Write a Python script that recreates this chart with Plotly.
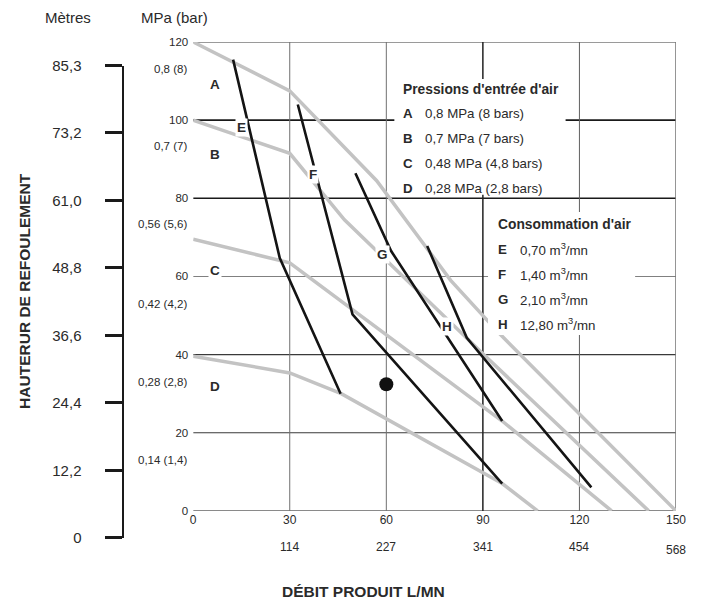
import plotly.graph_objects as go

# ---------------- data ----------------
# Pressure curves (gray): x = débit (0-150 scale), y = MPa*100 scale
A_x = [0, 30, 57, 80, 95, 150]
A_y = [120, 107.5, 84.5, 59, 45.5, 0]
B_x = [0, 30, 47, 90, 141.5]
B_y = [100, 91.5, 74.5, 40.2, 0]
C_x = [0, 30, 96, 130]
C_y = [69.5, 63.5, 23, 0]
D_x = [0, 30, 46, 96, 107]
D_y = [39.6, 35.3, 30, 7, 0]

# Air consumption curves (black)
E_x = [12.4, 26.9, 45.8]
E_y = [115.5, 64.7, 30]
F_x = [32.5, 49.5, 96]
F_y = [104, 50.3, 7]
G_x = [50.4, 61.5, 96]
G_y = [86.4, 66.5, 23]
H_x = [72.7, 85, 123.7]
H_y = [67.8, 44.3, 6]

# operating point
dot_x = [60]
dot_y = [32.4]

# axes ticks
x_ticks = [0, 30, 60, 90, 120, 150]
x_ticks_lmn = ["", "114", "227", "341", "454", "568"]
y_ticks = [0, 20, 40, 60, 80, 100, 120]
bar_label_vals = [113, 93.5, 73.5, 53, 33, 13]
bar_labels = ["0,8 (8)", "0,7 (7)", "0,56 (5,6)", "0,42 (4,2)", "0,28 (2,8)", "0,14 (1,4)"]
m_ticks = [0, 12.2, 24.4, 36.6, 48.8, 61.0, 73.2, 85.3]
m_labels = ["0", "12,2", "24,4", "36,6", "48,8", "61,0", "73,2", "85,3"]

curve_labels = ["A", "B", "C", "D"]
curve_label_y = [109.2, 91.3, 61.4, 31.8]
point_labels = ["E", "F", "G", "H"]
point_label_x = [14.9, 37.1, 58.8, 78.9]
point_label_y = [98, 86.2, 65.7, 47.3]

press_title = "Pressions d'entrée d'air"
press_letters = ["A", "B", "C", "D"]
press_texts = ["0,8 MPa (8 bars)", "0,7 MPa (7 bars)", "0,48 MPa (4,8 bars)", "0,28 MPa (2,8 bars)"]
cons_title = "Consommation d'air"
cons_letters = ["E", "F", "G", "H"]
cons_texts = ["0,70 m<sup>3</sup>/mn", "1,40 m<sup>3</sup>/mn", "2,10 m<sup>3</sup>/mn", "12,80 m<sup>3</sup>/mn"]

# ---------------- geometry helpers ----------------
# layout positions below are given in target-image pixels; K compensates the
# vertical squeeze observed when the page is photographed
W, H = 701, 612
K = 612 / 603
ML, MR, MT, MB = 10, 25, 41 * K, 10
PW = W - ML - MR
PH = H - MT - MB


def px(x):
    return (x - ML) / PW


def py(y):
    return (H - MB - y * K) / PH


FONT = "Liberation Sans, Arial, sans-serif"
TXT = "#2a2a2a"
GRAY = "#c3c3c3"
BLACK = "#141414"

fig = go.Figure()

for xs, ys in [(A_x, A_y), (B_x, B_y), (C_x, C_y), (D_x, D_y)]:
    fig.add_trace(go.Scatter(x=xs, y=ys, mode="lines", line=dict(color=GRAY, width=3.5),
                             showlegend=False, hoverinfo="skip"))
for xs, ys in [(E_x, E_y), (F_x, F_y), (G_x, G_y), (H_x, H_y)]:
    fig.add_trace(go.Scatter(x=xs, y=ys, mode="lines", line=dict(color=BLACK, width=2.6),
                             showlegend=False, hoverinfo="skip"))
fig.add_trace(go.Scatter(x=dot_x, y=dot_y, mode="markers",
                         marker=dict(color="#111", size=14), showlegend=False, hoverinfo="skip"))
# invisible trace carrying the metres axis (separate small subplot)
fig.add_trace(go.Scatter(x=[0], y=[0], xaxis="x2", yaxis="y2", mode="markers",
                         marker=dict(opacity=0), showlegend=False, hoverinfo="skip"))

shapes = []


def hline(y, color, width, x0=0, x1=150):
    shapes.append(dict(type="line", xref="x", yref="y", x0=x0, x1=x1, y0=y, y1=y,
                       line=dict(color=color, width=width), layer="below"))


def vline(x, color, width, y0=0, y1=120):
    shapes.append(dict(type="line", xref="x", yref="y", x0=x, x1=x, y0=y0, y1=y1,
                       line=dict(color=color, width=width), layer="below"))


hline(20, "#3a3a3a", 1.1)
hline(40, "#3a3a3a", 1.1)
hline(60, "#808080", 1.1)
hline(80, "#1a1a1a", 1.6)
hline(100, "#1a1a1a", 1.6)
hline(120, "#9a9a9a", 2.2)
hline(0, "#8a8a8a", 2)
vline(30, "#707070", 1)
vline(60, "#707070", 1)
vline(90, "#222222", 1.5)
vline(120, "#606060", 1)
vline(150, "#7a7a7a", 1.6)

# white boxes behind the two legends
shapes.append(dict(type="rect", xref="x", yref="y", x0=62.5, x1=115.7, y0=80.9, y1=110.5,
                   fillcolor="white", line=dict(width=0), layer="above"))
shapes.append(dict(type="rect", xref="x", yref="y", x0=91.6, x1=137.3, y0=45.0, y1=76.5,
                   fillcolor="white", line=dict(width=0), layer="above"))

ann = []


def A(**kw):
    kw.setdefault("showarrow", False)
    kw.setdefault("xanchor", "center")
    kw.setdefault("yanchor", "middle")
    ann.append(kw)


# bar-pressure labels between ticks
for v, t in zip(bar_label_vals, bar_labels):
    A(xref="paper", yref="y", x=px(187), y=v, text=t, xanchor="right",
      font=dict(family=FONT, size=11.5, color=TXT))
# curve labels A-D
for t, v in zip(curve_labels, curve_label_y):
    A(xref="x", yref="y", x=6.8, y=v, text="<b>%s</b>" % t, bgcolor="white", borderpad=1,
      font=dict(family=FONT, size=13.5, color=TXT))
# labels E-H on curves
for t, xv, yv in zip(point_labels, point_label_x, point_label_y):
    A(xref="x", yref="y", x=xv, y=yv, text="<b>%s</b>" % t, bgcolor="white", borderpad=1,
      font=dict(family=FONT, size=13.5, color=TXT))
# pressure legend
A(xref="x", yref="y", x=64.6, y=107.9, text="<b>%s</b>" % press_title, xanchor="left",
  font=dict(family=FONT, size=13.8, color=TXT))
for i, (l, t) in enumerate(zip(press_letters, press_texts)):
    yv = 101.6 - i * 6.4
    A(xref="x", yref="y", x=64.6, y=yv, text="<b>%s</b>" % l, xanchor="left",
      font=dict(family=FONT, size=13.3, color=TXT))
    A(xref="x", yref="y", x=71.4, y=yv, text=t, xanchor="left",
      font=dict(family=FONT, size=13.3, color=TXT))
# consumption legend
A(xref="x", yref="y", x=94.0, y=73.4, text="<b>%s</b>" % cons_title, xanchor="left",
  font=dict(family=FONT, size=13.8, color=TXT))
for i, (l, t) in enumerate(zip(cons_letters, cons_texts)):
    yv = 67.0 - i * 6.4
    A(xref="x", yref="y", x=94.0, y=yv, text="<b>%s</b>" % l, xanchor="left",
      font=dict(family=FONT, size=13.3, color=TXT))
    A(xref="x", yref="y", x=100.8, y=yv, text=t, xanchor="left",
      font=dict(family=FONT, size=13.3, color=TXT))
# second row of x labels (L/MN)
for xv, t in zip(x_ticks, x_ticks_lmn):
    if t:
        A(xref="x", yref="paper", x=xv, y=py(546 if xv < 150 else 549), text=t,
          font=dict(family=FONT, size=12, color=TXT))
# axis titles
A(xref="paper", yref="paper", x=px(362), y=py(591), text="<b>DÉBIT PRODUIT L/MN</b>",
  font=dict(family=FONT, size=15.5, color=TXT))
A(xref="paper", yref="paper", x=px(22), y=py(290), text="<b>HAUTERUR DE REFOULEMENT</b>",
  textangle=-90, font=dict(family=FONT, size=15.5, color=TXT))
A(xref="paper", yref="paper", x=px(65), y=py(16), text="Mètres",
  font=dict(family=FONT, size=15, color=TXT))
A(xref="paper", yref="paper", x=px(172), y=py(16), text="MPa (bar)",
  font=dict(family=FONT, size=15, color=TXT))

fig.update_layout(
    width=W, height=H,
    margin=dict(l=ML, r=MR, t=MT, b=MB),
    paper_bgcolor="white", plot_bgcolor="white",
    showlegend=False,
    shapes=shapes, annotations=ann,
    xaxis=dict(domain=[px(191), 1], range=[0, 150], tickvals=x_ticks,
               ticktext=[str(v) for v in x_ticks], showgrid=False, zeroline=False,
               showline=False, ticks="", tickfont=dict(family=FONT, size=12, color=TXT),
               fixedrange=True, anchor="y"),
    yaxis=dict(domain=[py(510), 1], range=[0, 120], tickvals=y_ticks,
               showgrid=False, zeroline=False, showline=False, ticks="",
               ticklabelstandoff=4, anchor="x",
               tickfont=dict(family=FONT, size=11.5, color=TXT), fixedrange=True),
    xaxis2=dict(domain=[px(122), px(150)], range=[0, 1], visible=False, anchor="y2",
                fixedrange=True),
    yaxis2=dict(domain=[py(537), py(65)], range=[0, 85.3], anchor="x2",
                side="left", tickvals=m_ticks, ticktext=m_labels, showgrid=False,
                zeroline=False, showline=True, linecolor="#1a1a1a", linewidth=2,
                ticks="outside", ticklen=17, tickwidth=2.5, tickcolor="#1a1a1a",
                ticklabelstandoff=21,
                tickfont=dict(family=FONT, size=15, color=TXT), fixedrange=True),
)

fig.write_html(
    "out.html",
    config={"displayModeBar": False},
    post_script=("document.body.style.margin='0';"
                 "document.body.style.overflow='hidden';"
                 "document.documentElement.style.overflow='hidden';"),
)
